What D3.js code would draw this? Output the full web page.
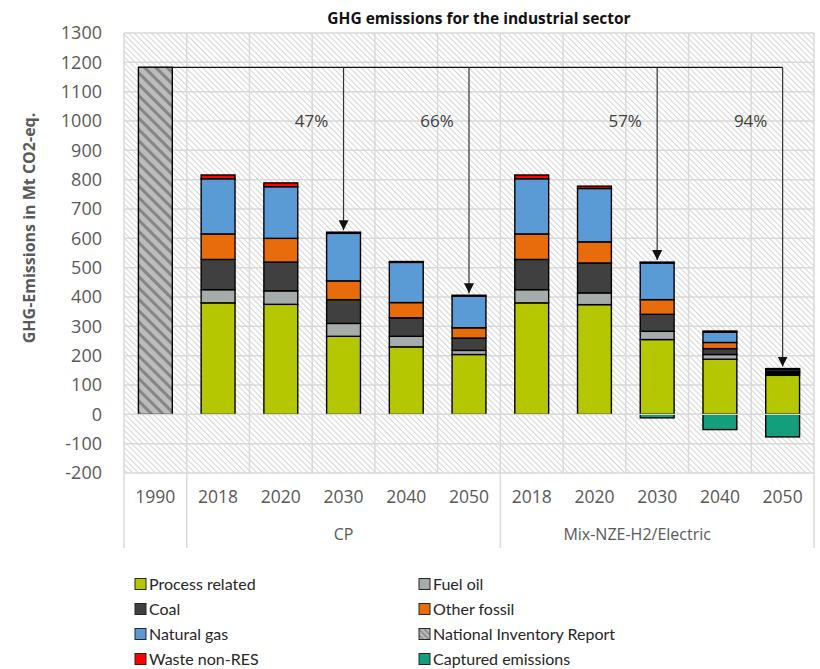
<!DOCTYPE html>
<html>
<head>
<meta charset="utf-8">
<script src="https://cdn.jsdelivr.net/npm/d3@7"></script>
<style>
  html, body { margin: 0; padding: 0; background: #fff; }
  svg { display: block; font-family: "Open Sans", "Noto Sans", sans-serif; }
</style>
</head>
<body>
<svg id="chart" width="820" height="669"></svg>
<script>
// GHG emissions industrial sector - stacked bars, 1990 reference + 2 scenarios

const years = ['1990', '2018', '2020', '2030', '2040', '2050', '2018', '2020', '2030', '2040', '2050'];
const groupNames = ['', 'CP', 'Mix-NZE-H2/Electric'];
const groupOf = [0, 1, 1, 1, 1, 1, 2, 2, 2, 2, 2];

const nationalInventory = [1183, 0, 0, 0, 0, 0, 0, 0, 0, 0, 0];
const processRelated = [0, 380, 375, 266, 230, 204, 380, 374, 255, 188, 133];
const fuelOil        = [0, 45, 46, 44, 36, 14, 45, 40, 28, 16, 5];
const coal           = [0, 103, 98, 81, 63, 42, 103, 102, 58, 20, 5];
const otherFossil    = [0, 87, 81, 64, 52, 35, 87, 72, 50, 21, 4];
const naturalGas     = [0, 188, 176, 162, 137, 108, 188, 182, 125, 35, 6];
const wasteNonRes    = [0, 13, 13, 4, 3, 3, 13, 8, 3, 4, 3];
const captured       = [0, 0, 0, 0, 0, 0, 0, 0, -12, -52, -77];

// reduction arrows vs 1990
const arrowTargets = [3, 5, 8, 10];
const arrowLabels = ['47%', '66%', '57%', '94%'];

const yTicks = d3.range(-200, 1301, 100);

const series = [
  { key: 'Process related', values: processRelated, color: '#b4c700' },
  { key: 'Fuel oil', values: fuelOil, color: '#a6acaa' },
  { key: 'Coal', values: coal, color: '#404040' },
  { key: 'Other fossil', values: otherFossil, color: '#e86c0c' },
  { key: 'Natural gas', values: naturalGas, color: '#5b9bd5' },
  { key: 'Waste non-RES', values: wasteNonRes, color: '#ff0000' },
];
const legendItems = [
  { key: 'Process related', fill: '#b4c700' },
  { key: 'Fuel oil', fill: '#a6acaa' },
  { key: 'Coal', fill: '#404040' },
  { key: 'Other fossil', fill: '#e86c0c' },
  { key: 'Natural gas', fill: '#5b9bd5' },
  { key: 'National Inventory Report', fill: 'url(#nirHatchSmall)' },
  { key: 'Waste non-RES', fill: '#ff0000' },
  { key: 'Captured emissions', fill: '#159e7b' },
];

const svg = d3.select('#chart');
const m = { left: 124, right: 814, top: 33, bottom: 473 };

const x = d3.scaleBand().domain(d3.range(years.length)).range([m.left, m.right]).padding(0);
const y = d3.scaleLinear().domain([-200, 1300]).range([m.bottom, m.top]);
const barW = x.bandwidth() * 0.54;
const cx = (i) => x(i) + x.bandwidth() / 2;

// --- patterns
const defs = svg.append('defs');
const bg = defs.append('pattern').attr('id', 'bgHatch')
  .attr('patternUnits', 'userSpaceOnUse').attr('width', 4).attr('height', 4)
  .attr('patternTransform', 'rotate(45)');
bg.append('rect').attr('width', 4).attr('height', 4).attr('fill', '#fff');
bg.append('line').attr('x1', 0).attr('x2', 4).attr('y1', 0.5).attr('y2', 0.5)
  .attr('stroke', '#d6d6d6').attr('stroke-width', 1);

function hatch(id, size, band) {
  const p = defs.append('pattern').attr('id', id)
    .attr('patternUnits', 'userSpaceOnUse').attr('width', size).attr('height', size)
    .attr('patternTransform', 'rotate(45)');
  p.append('rect').attr('width', size).attr('height', size).attr('fill', '#bcbcbc');
  p.append('rect').attr('width', size).attr('height', band).attr('fill', '#858585');
}
hatch('nirHatch', 8, 3);
hatch('nirHatchSmall', 4, 1.5);

defs.append('marker').attr('id', 'arrowHead')
  .attr('viewBox', '0 0 10 10').attr('refX', 10).attr('refY', 5)
  .attr('markerWidth', 10).attr('markerHeight', 10).attr('markerUnits', 'userSpaceOnUse')
  .attr('orient', 'auto')
  .append('path').attr('d', 'M0,0 L10,5 L0,10 Z').attr('fill', '#111');

// --- plot background + grid
svg.append('rect')
  .attr('x', m.left).attr('y', m.top).attr('width', m.right - m.left).attr('height', m.bottom - m.top)
  .attr('fill', 'url(#bgHatch)');

svg.append('g').selectAll('line').data(yTicks).join('line')
  .attr('x1', m.left).attr('x2', m.right)
  .attr('y1', (d) => y(d)).attr('y2', (d) => y(d))
  .attr('stroke', '#d9d9d9').attr('stroke-width', 1.5);

svg.append('g').selectAll('line').data(d3.range(years.length + 1)).join('line')
  .attr('x1', (i) => m.left + i * x.step()).attr('x2', (i) => m.left + i * x.step())
  .attr('y1', m.top).attr('y2', m.bottom)
  .attr('stroke', '#d9d9d9').attr('stroke-width', 1.5);

// category axis separators (multi-level)
const sepIdx = [0, 1, 6, 11];
svg.append('g').selectAll('line').data(sepIdx).join('line')
  .attr('x1', (i) => m.left + i * x.step()).attr('x2', (i) => m.left + i * x.step())
  .attr('y1', m.bottom).attr('y2', 548)
  .attr('stroke', '#d9d9d9').attr('stroke-width', 1.5);

// --- y axis labels
svg.append('g').selectAll('text').data(yTicks).join('text')
  .attr('x', 102).attr('y', (d) => y(d)).attr('dy', '0.36em')
  .attr('text-anchor', 'end').attr('fill', '#595959').attr('font-size', 18)
  .text((d) => d);

svg.append('text')
  .attr('transform', `translate(35,228) rotate(-90)`)
  .attr('text-anchor', 'middle').attr('fill', '#595959')
  .attr('font-size', 16).attr('font-weight', 'bold')
  .text('GHG-Emissions in Mt CO2-eq.');

svg.append('text')
  .attr('x', 479).attr('y', 24).attr('text-anchor', 'middle')
  .attr('font-size', 15.5).attr('font-weight', 'bold').attr('fill', '#111')
  .text('GHG emissions for the industrial sector');

// --- stacked bars
const rows = years.map((yr, i) => {
  const r = { i };
  series.forEach((s) => { r[s.key] = s.values[i]; });
  return r;
});
const stack = d3.stack().keys(series.map((s) => s.key))(rows);

const bars = svg.append('g');
stack.forEach((layer, k) => {
  bars.append('g').selectAll('rect').data(layer.filter((d) => d[1] - d[0] > 0)).join('rect')
    .attr('x', (d) => cx(d.data.i) - barW / 2).attr('width', barW)
    .attr('y', (d) => y(d[1])).attr('height', (d) => y(d[0]) - y(d[1]))
    .attr('fill', series[k].color).attr('stroke', '#000').attr('stroke-width', 1.4);
});

bars.append('g').selectAll('rect').data(d3.range(years.length).filter((i) => captured[i] < 0)).join('rect')
  .attr('x', (i) => cx(i) - barW / 2).attr('width', barW)
  .attr('y', y(0)).attr('height', (i) => y(captured[i]) - y(0))
  .attr('fill', '#159e7b').attr('stroke', '#000').attr('stroke-width', 1.4);

bars.append('g').selectAll('rect').data(d3.range(years.length).filter((i) => nationalInventory[i] > 0)).join('rect')
  .attr('x', (i) => cx(i) - barW / 2).attr('width', barW)
  .attr('y', (i) => y(nationalInventory[i])).attr('height', (i) => y(0) - y(nationalInventory[i]))
  .attr('fill', 'url(#nirHatch)').attr('stroke', '#000').attr('stroke-width', 1.4);

// light zero line crossing the bars
svg.append('line').attr('x1', m.left).attr('x2', m.right).attr('y1', y(0)).attr('y2', y(0))
  .attr('stroke', '#d9d9d9').attr('stroke-width', 1.2);

// --- reduction arrows
const totals = d3.range(years.length).map((i) => d3.sum(series, (s) => s.values[i]));
const ref = nationalInventory[0];
const lastX = cx(arrowTargets[arrowTargets.length - 1]);
svg.append('line')
  .attr('x1', cx(0) - barW / 2).attr('x2', lastX).attr('y1', y(ref)).attr('y2', y(ref))
  .attr('stroke', '#111').attr('stroke-width', 1.3);
svg.append('g').selectAll('line').data(arrowTargets).join('line')
  .attr('x1', (i) => cx(i)).attr('x2', (i) => cx(i))
  .attr('y1', y(ref)).attr('y2', (i) => y(totals[i]) - 2)
  .attr('stroke', '#333').attr('stroke-width', 1.2)
  .attr('marker-end', 'url(#arrowHead)');
svg.append('g').selectAll('text').data(arrowTargets).join('text')
  .attr('x', (i) => cx(i) - 32).attr('y', y(1000)).attr('dy', '0.36em')
  .attr('text-anchor', 'middle').attr('font-size', 17).attr('fill', '#404040')
  .text((i, k) => arrowLabels[k]);

// --- category labels
svg.append('g').selectAll('text').data(years).join('text')
  .attr('x', (d, i) => cx(i)).attr('y', 497).attr('dy', '0.36em')
  .attr('text-anchor', 'middle').attr('font-size', 17.5).attr('fill', '#595959')
  .text((d) => d);

const groups = groupNames.map((g, gi) => {
  const idx = d3.range(years.length).filter((i) => groupOf[i] === gi);
  return { name: g, x0: x(idx[0]), x1: x(idx[idx.length - 1]) + x.bandwidth() };
}).filter((g) => g.name);
svg.append('g').selectAll('text').data(groups).join('text')
  .attr('x', (g, k) => (g.x0 + g.x1) / 2 - (k === 1 ? 20 : 0)).attr('y', 534).attr('dy', '0.36em')
  .attr('text-anchor', 'middle').attr('font-size', 16).attr('fill', '#595959')
  .text((g) => g.name);

// --- legend (2 columns)
const leg = svg.append('g').selectAll('g').data(legendItems).join('g')
  .attr('transform', (d, k) => `translate(${k % 2 ? 419 : 135},${584 + Math.floor(k / 2) * 25})`);
leg.append('rect').attr('x', 0).attr('y', -5.5).attr('width', 11).attr('height', 11)
  .attr('fill', (d) => d.fill).attr('stroke', '#262626').attr('stroke-width', 1);
leg.append('text').attr('x', 14).attr('dy', '0.36em')
  .attr('font-family', 'Lato, sans-serif').attr('font-size', 16).attr('fill', '#262626')
  .text((d) => d.key);
</script>
</body>
</html>
